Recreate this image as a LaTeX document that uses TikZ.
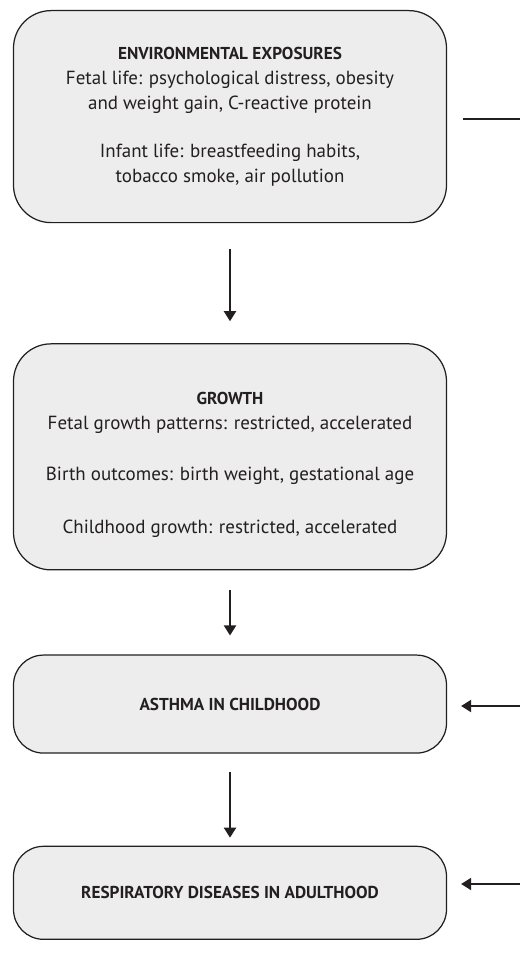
\documentclass[tikz,border=0pt]{standalone}
\usepackage{fontspec}
\setmainfont{PT Sans}
\usetikzlibrary{positioning, arrows.meta}
\definecolor{inkdark}{HTML}{231F20}
\definecolor{boxfill}{HTML}{EDEDED}
\newcommand{\stagetitle}[1]{{\fontsize{9.8}{14.2}\selectfont\bfseries #1}}

\begin{document}
\begin{tikzpicture}[
  stage/.style={draw=inkdark, fill=boxfill, line width=0.7pt, rounded corners=0.75cm,
                minimum width=8.66cm, align=center, text=inkdark,
                font=\fontsize{10.8}{14.2}\selectfont, inner sep=0pt},
  arr/.style={-{Triangle[length=0.2cm, width=0.24cm]}, line width=1.1pt, color=inkdark},
  side/.style={line width=1.1pt, color=inkdark},
]
\useasboundingbox (0,0) rectangle (10.4,-19.2);

% ---------- Stages (top to bottom) ----------
\node[stage, minimum height=4.24cm, anchor=north] (expo) at (4.6,-0.2)
  {\stagetitle{ENVIRONMENTAL EXPOSURES}\\
   Fetal life: psychological distress, obesity\\
   and weight gain, C-reactive protein\\[13pt]
   Infant life: breastfeeding habits,\\
   tobacco smoke, air pollution};
\node[stage, minimum height=4.52cm, below=2.4cm of expo] (growth)
  {~\\[2pt]
   \stagetitle{GROWTH}\\
   Fetal growth patterns: restricted, accelerated\\[15pt]
   Birth outcomes: birth weight, gestational age\\[16pt]
   Childhood growth: restricted, accelerated};
\node[stage, minimum height=1.96cm, rounded corners=0.6cm, below=1.68cm of growth] (child)
  {\stagetitle{ASTHMA IN CHILDHOOD}};
\node[stage, minimum height=1.86cm, rounded corners=0.6cm, below=1.84cm of child] (adult)
  {\stagetitle{RESPIRATORY DISEASES IN ADULTHOOD}};

% ---------- Downward arrows ----------
\draw[arr, shorten <=0.52cm, shorten >=0.44cm] (expo) -- (growth);
\draw[arr, shorten <=0.4cm, shorten >=0.38cm] (growth) -- (child);
\draw[arr, shorten <=0.36cm, shorten >=0.16cm] (child) -- (adult);

% ---------- Links running off the right edge ----------
\coordinate (outA) at (10.4,-2.38);
\coordinate (inB) at (10.4,-14.12);
\coordinate (inC) at (10.4,-17.68);
\draw[side, shorten <=0.32cm] (expo.east |- outA) -- (outA);
\draw[arr, shorten >=0.28cm] (inB) -- (child.east |- inB);
\draw[arr, shorten >=0.28cm] (inC) -- (adult.east |- inC);
\end{tikzpicture}
\end{document}
